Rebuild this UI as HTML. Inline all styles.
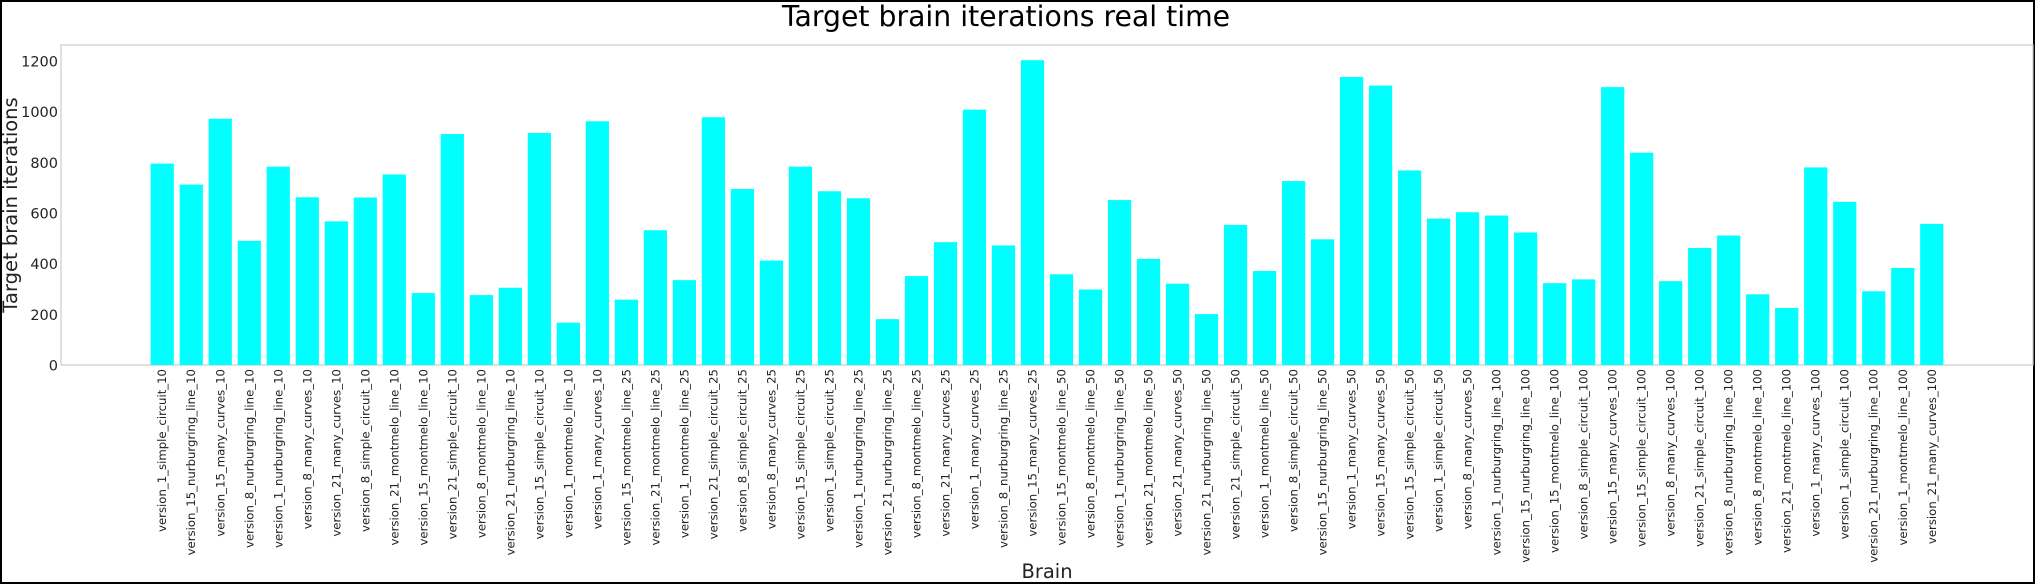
<!DOCTYPE html>
<html><head><meta charset="utf-8">
<style>
html,body{margin:0;padding:0;background:#fff;overflow:hidden;}
svg{display:block;font-family:"DejaVu Sans","Liberation Sans",sans-serif;}
</style></head>
<body>
<svg id="chart" width="2035" height="584" viewBox="0 0 2035 584" xmlns="http://www.w3.org/2000/svg">
<rect x="1" y="1" width="2033" height="582" fill="#fff" stroke="#000" stroke-width="2"/>
<text x="1006" y="26" text-anchor="middle" font-size="28.3" fill="#000">Target brain iterations real time</text>
<rect x="61" y="45" width="1972" height="320" fill="none" stroke="#ccc" stroke-width="1.2"/>
<text transform="translate(17,205) rotate(-90)" text-anchor="middle" font-size="19.5" fill="#222">Target brain iterations</text>
<text x="1047" y="578" text-anchor="middle" font-size="19.5" fill="#222">Brain</text>
<g id="bars"></g><g id="yticks"></g><g id="xticks"></g>
</svg>
<script>
const categories = ["version_1_simple_circuit_10","version_15_nurburgring_line_10","version_15_many_curves_10","version_8_nurburgring_line_10","version_1_nurburgring_line_10","version_8_many_curves_10","version_21_many_curves_10","version_8_simple_circuit_10","version_21_montmelo_line_10","version_15_montmelo_line_10","version_21_simple_circuit_10","version_8_montmelo_line_10","version_21_nurburgring_line_10","version_15_simple_circuit_10","version_1_montmelo_line_10","version_1_many_curves_10","version_15_montmelo_line_25","version_21_montmelo_line_25","version_1_montmelo_line_25","version_21_simple_circuit_25","version_8_simple_circuit_25","version_8_many_curves_25","version_15_simple_circuit_25","version_1_simple_circuit_25","version_1_nurburgring_line_25","version_21_nurburgring_line_25","version_8_montmelo_line_25","version_21_many_curves_25","version_1_many_curves_25","version_8_nurburgring_line_25","version_15_many_curves_25","version_15_montmelo_line_50","version_8_montmelo_line_50","version_1_nurburgring_line_50","version_21_montmelo_line_50","version_21_many_curves_50","version_21_nurburgring_line_50","version_21_simple_circuit_50","version_1_montmelo_line_50","version_8_simple_circuit_50","version_15_nurburgring_line_50","version_1_many_curves_50","version_15_many_curves_50","version_15_simple_circuit_50","version_1_simple_circuit_50","version_8_many_curves_50","version_1_nurburgring_line_100","version_15_nurburgring_line_100","version_15_montmelo_line_100","version_8_simple_circuit_100","version_15_many_curves_100","version_15_simple_circuit_100","version_8_many_curves_100","version_21_simple_circuit_100","version_8_nurburgring_line_100","version_8_montmelo_line_100","version_21_montmelo_line_100","version_1_many_curves_100","version_1_simple_circuit_100","version_21_nurburgring_line_100","version_1_montmelo_line_100","version_21_many_curves_100"];
const iterations = [795,712,972,490,783,662,567,661,752,284,912,276,305,916,167,962,258,532,335,978,695,412,783,686,658,181,351,485,1008,472,1203,358,298,651,419,321,201,553,371,726,496,1137,1103,768,578,603,590,523,323,338,1097,838,331,462,511,279,225,780,644,291,383,557];
const yTicks = [0,200,400,600,800,1000,1200];

const NS = "http://www.w3.org/2000/svg";
const axL = 61, axR = 2033, axT = 45, y0 = 365;
const n = categories.length;
const dMin = -0.4 - 0.05*(n-1+0.8), dMax = (n-1)+0.4 + 0.05*(n-1+0.8);
const yMax = Math.max.apply(null, iterations) * 1.05;
function xScale(i){ return axL + (i - dMin) / (dMax - dMin) * (axR - axL); }
function yScale(v){ return y0 - v / yMax * (y0 - axT); }
const bw = (xScale(0.4) - xScale(-0.4));

const gb = document.getElementById('bars');
iterations.forEach((v,i)=>{
  const r = document.createElementNS(NS,'rect');
  r.setAttribute('x', xScale(i) - bw/2);
  r.setAttribute('y', yScale(v));
  r.setAttribute('width', bw);
  r.setAttribute('height', y0 - yScale(v));
  r.setAttribute('fill', '#00ffff');
  
  
  gb.appendChild(r);
});
const gy = document.getElementById('yticks');
yTicks.forEach(t=>{
  const tx = document.createElementNS(NS,'text');
  tx.setAttribute('x', 58);
  tx.setAttribute('y', yScale(t) + 5.5);
  tx.setAttribute('text-anchor', 'end');
  tx.setAttribute('font-size', '14.5');
  tx.setAttribute('fill', '#222');
  tx.textContent = t;
  
  
  gy.appendChild(tx);
});
const gx = document.getElementById('xticks');
categories.forEach((c,i)=>{
  const tx = document.createElementNS(NS,'text');
  const x = xScale(i) + 4;
  tx.setAttribute('transform', 'translate(' + x + ',369) rotate(-90)');
  tx.setAttribute('text-anchor', 'end');
  tx.setAttribute('font-size', '11.7');
  tx.setAttribute('fill', '#222');
  tx.textContent = c;
  
  
  gx.appendChild(tx);
});
</script>
</body></html>
